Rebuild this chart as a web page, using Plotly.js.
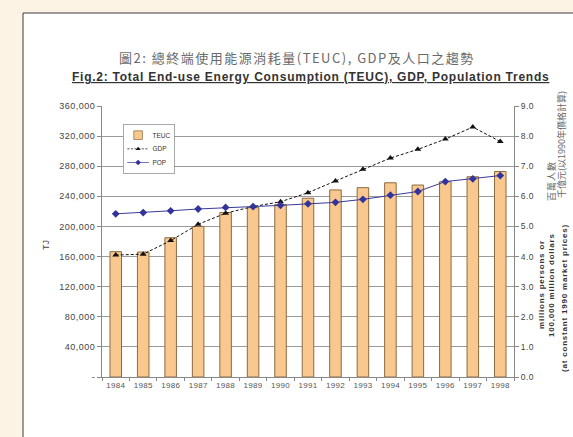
<!DOCTYPE html>
<html>
<head>
<meta charset="utf-8">
<script src="https://cdn.plot.ly/plotly-3.0.1.min.js"></script>
<style>
  html, body { margin: 0; padding: 0; background: #fcf3e4; }
  #chart { width: 573px; height: 437px; }
  /* spread the small axis labels a little */
  #chart .ytick text, #chart .y2tick text { letter-spacing: 0.5px; }
  #chart .xtick text { letter-spacing: 0.3px; }
  /* compact legend box in the upper left of the plot */
  #chart .legend { transform: translate(123px, 124px) scale(0.72) !important; }
</style>
</head>
<body>
<div id="chart"></div>
<script>
// Hong Kong end-use energy consumption, GDP and population, 1984-1998
const years = ['1984', '1985', '1986', '1987', '1988', '1989', '1990', '1991',
               '1992', '1993', '1994', '1995', '1996', '1997', '1998'];

// Total end-use energy consumption (TJ)
const teuc = [166500, 166000, 185000, 200000, 218500, 225000, 229000, 237500,
              248500, 251500, 258000, 255000, 259500, 266000, 273000];

// GDP, 100,000 million dollars at constant 1990 market prices
const gdp = [4.05, 4.08, 4.53, 5.07, 5.44, 5.66, 5.82, 6.12,
             6.51, 6.90, 7.27, 7.56, 7.90, 8.30, 7.82];

// Population, millions
const pop = [5.42, 5.46, 5.52, 5.58, 5.63, 5.66, 5.70, 5.75,
             5.80, 5.90, 6.04, 6.16, 6.49, 6.58, 6.69];

// Axis ticks
const leftTickVals = [0, 40000, 80000, 120000, 160000, 200000, 240000, 280000, 320000, 360000];
const leftTickText = ['-', '40,000', '80,000', '120,000', '160,000', '200,000',
                      '240,000', '280,000', '320,000', '360,000'];
const rightTickVals = [0, 1, 2, 3, 4, 5, 6, 7, 8, 9];
const rightTickText = ['0.0', '1.0', '2.0', '3.0', '4.0', '5.0', '6.0', '7.0', '8.0', '9.0'];

// Titles
const titleZh = '圖2: 總終端使用能源消耗量(TEUC), GDP及人口之趨勢';
const titleEn = 'Fig.2: Total End-use Energy Consumption (TEUC), GDP, Population Trends';
const leftAxisTitle = 'TJ';
const rightTitleZh1 = '百萬人數';
const rightTitleZh2 = '千億元(以1990年價格計算)';
const rightTitleEn1 = 'millions persons or';
const rightTitleEn2 = '100,000 million dollars';
const rightTitleEn3 = '(at constant 1990 market prices)';

// plot area in pixels: x 102..514, y 106..377
const L = 102, R = 514, T = 106, B = 377;
const px = v => (v - L) / (R - L);
const py = v => (B - v) / (B - T);

const FONT = 'Arial, "Liberation Sans", sans-serif';
const CJK = '"Noto Sans CJK TC", "Noto Sans CJK SC", sans-serif';
const spaced = (t, s) => '<span style="letter-spacing:' + s + 'px">' + t + '</span>';

const traces = [
  {
    type: 'bar', name: 'TEUC', x: years, y: teuc,
    marker: { color: '#f9c88e', line: { color: '#8c6a42', width: 1 } }
  },
  {
    type: 'scatter', mode: 'lines+markers', name: 'GDP', x: years, y: gdp, yaxis: 'y2',
    line: { color: '#111111', width: 1, dash: '3px,2px' },
    marker: { symbol: 'triangle-up', size: 6, color: '#111111' }
  },
  {
    type: 'scatter', mode: 'lines+markers', name: 'POP', x: years, y: pop, yaxis: 'y2',
    line: { color: '#3a3a9a', width: 1 },
    marker: { symbol: 'diamond', size: 6, color: '#33339c' }
  }
];

const ann = (text, x, y, opts) => Object.assign({
  text, xref: 'paper', yref: 'paper', x: px(x), y: py(y),
  xanchor: 'center', yanchor: 'middle', showarrow: false
}, opts);

const layout = {
  width: 573, height: 437,
  margin: { l: L, r: 573 - R, t: T, b: 437 - B, pad: 0 },
  paper_bgcolor: '#fcf3e4',
  plot_bgcolor: 'rgba(0,0,0,0)',
  showlegend: true,
  bargap: 0.58,
  font: { family: FONT, size: 9, color: '#444' },
  legend: {
    x: px(123), y: py(124), xanchor: 'left', yanchor: 'top',
    bgcolor: '#ffffff', bordercolor: '#888', borderwidth: 1,
    font: { family: FONT, size: 9, color: '#333' },
    itemwidth: 30, tracegroupgap: 0, traceorder: 'normal'
  },
  xaxis: {
    type: 'category', range: [-0.5, 14.5], tickangle: 0,
    showline: true, linecolor: '#888', linewidth: 1,
    ticks: 'outside', tickson: 'boundaries', ticklen: 3, tickcolor: '#888',
    tickfont: { family: FONT, size: 8, color: '#555' },
    showgrid: false
  },
  yaxis: {
    range: [0, 360000], tickvals: leftTickVals, ticktext: leftTickText,
    showline: true, linecolor: '#888', linewidth: 1,
    ticks: 'outside', ticklen: 4, tickcolor: '#888',
    gridcolor: '#9a9a9a', gridwidth: 1, zeroline: false,
    tickfont: { family: FONT, size: 9, color: '#444' }
  },
  yaxis2: {
    range: [0, 9], overlaying: 'y', side: 'right',
    tickvals: rightTickVals, ticktext: rightTickText,
    showline: true, linecolor: '#888', linewidth: 1,
    ticks: 'outside', ticklen: 4, tickcolor: '#888',
    showgrid: false, zeroline: false,
    tickfont: { family: FONT, size: 8.5, color: '#444' }
  },
  shapes: [
    // white page panel behind the chart
    {
      type: 'rect', xref: 'paper', yref: 'paper', layer: 'below',
      x0: px(23), x1: px(620), y0: py(480), y1: py(13),
      fillcolor: '#ffffff', line: { color: '#3a3a3a', width: 1 }
    }
  ],
  annotations: [
    ann(spaced(titleZh, 1.5), 297, 57, { font: { family: CJK, size: 13, color: '#6a6a6a' } }),
    ann('<b><u>' + spaced(titleEn, 0.75) + '</u></b>', 310, 77, { font: { family: FONT, size: 12, color: '#333' } }),
    ann(leftAxisTitle, 46, 245, { textangle: -90, font: { family: FONT, size: 9, color: '#444' } }),
    ann(spaced(rightTitleZh1, 1), 551, 181, { textangle: -90, font: { family: CJK, size: 9, color: '#666' } }),
    ann(rightTitleZh2, 561, 145, { textangle: -90, font: { family: CJK, size: 9, color: '#666' } }),
    ann('<b>' + spaced(rightTitleEn1, 0.8) + '</b>', 541, 285, { textangle: -90, font: { family: FONT, size: 8, color: '#333' } }),
    ann('<b>' + spaced(rightTitleEn2, 0.8) + '</b>', 551, 285, { textangle: -90, font: { family: FONT, size: 8, color: '#333' } }),
    ann('<b>' + spaced(rightTitleEn3, 0.8) + '</b>', 564, 298, { textangle: -90, font: { family: FONT, size: 8, color: '#333' } })
  ]
};

Plotly.newPlot('chart', traces, layout, { displayModeBar: false, staticPlot: true });
</script>
</body>
</html>
